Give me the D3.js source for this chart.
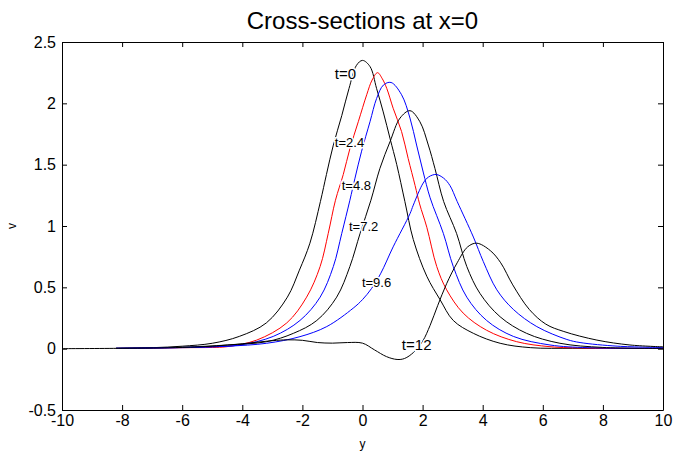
<!DOCTYPE html>
<html>
<head>
<meta charset="utf-8">
<script src="https://cdn.jsdelivr.net/npm/d3@7"></script>
<style>
  body { margin: 0; background: #fff; }
  text { font-family: "Liberation Sans", Arial, sans-serif; }
</style>
</head>
<body>
<div id="chart"></div>
<script>
/**
 * DATA ([y, v] pairs)
 * */
const t0 = [[-8.2,0.003],[-7,0.008],[-6,0.02],[-5,0.044],[-4.1,0.1],[-3.2,0.21],[-2.5,0.42],[-2.1,0.64],[-1.75,0.86],[-1.4,1.2],[-1.2,1.42],[-0.97,1.66],[-0.69,1.9],[-0.45,2.12],[-0.2,2.31],[0,2.35],[0.25,2.3],[0.47,2.12],[0.69,1.93],[0.92,1.71],[1.14,1.5],[1.41,1.2],[1.69,0.89],[2.14,0.59],[2.58,0.4],[3.02,0.23],[3.69,0.125],[4.58,0.044],[5.6,0.008],[7,0.003],[8.5,0.002],[10,0.001]];
const t24 = [[-8.2,0.002],[-7,0.004],[-6,0.008],[-5,0.01],[-4.52,0.016],[-3.52,0.07],[-2.52,0.21],[-1.86,0.42],[-1.41,0.67],[-1.14,0.94],[-0.9,1.21],[-0.64,1.42],[-0.42,1.63],[-0.14,1.85],[0.14,2.07],[0.32,2.19],[0.5,2.25],[0.66,2.2],[0.81,2.12],[1.02,1.96],[1.3,1.77],[1.52,1.55],[1.75,1.33],[1.9,1.18],[2.14,0.99],[2.47,0.67],[2.8,0.48],[3.35,0.29],[4.13,0.15],[5.13,0.057],[6.24,0.016],[7.5,0.005],[10,0.002]];
const t48 = [[-8.2,0.003],[-6,0.008],[-5,0.015],[-4.08,0.03],[-2.97,0.1],[-2.08,0.23],[-1.41,0.42],[-0.97,0.67],[-0.69,0.94],[-0.42,1.21],[-0.25,1.39],[-0.03,1.61],[0.25,1.85],[0.47,2.04],[0.7,2.15],[0.95,2.17],[1.3,2.07],[1.58,1.88],[1.8,1.66],[2.02,1.44],[2.25,1.23],[2.69,0.94],[3.02,0.67],[3.47,0.42],[4.13,0.23],[5.02,0.1],[6.24,0.03],[7.5,0.008],[10,0.003]];
const t72 = [[-8.2,0.003],[-6,0.012],[-4.5,0.03],[-3.19,0.057],[-2.3,0.125],[-1.52,0.23],[-0.86,0.42],[-0.42,0.67],[-0.08,0.94],[0.28,1.21],[0.58,1.47],[0.92,1.69],[1.25,1.88],[1.58,1.94],[1.91,1.85],[2.19,1.66],[2.41,1.47],[2.7,1.2],[3.13,0.94],[3.47,0.67],[3.91,0.45],[4.58,0.26],[5.46,0.125],[6.57,0.044],[8,0.01],[10,0.003]];
const t96 = [[-8.2,0.003],[-6,0.01],[-4.5,0.02],[-3.19,0.044],[-2.08,0.098],[-1.19,0.18],[-0.31,0.33],[0,0.4],[0.3,0.49],[0.6,0.61],[1.02,0.83],[1.58,1.1],[1.69,1.17],[2.02,1.35],[2.2,1.4],[2.45,1.42],[2.7,1.39],[2.91,1.33],[3.15,1.2],[3.69,0.91],[4.02,0.71],[4.47,0.48],[5.02,0.32],[5.8,0.18],[6.8,0.075],[7.24,0.05],[8.5,0.02],[10,0.01]];
const t12 = [[-10,0],[-8,0.003],[-6,0.01],[-5,0.02],[-4,0.04],[-3,0.065],[-2.5,0.072],[-2,0.068],[-1.5,0.05],[-1,0.045],[-0.5,0.05],[0,0.045],[0.4,-0.01],[0.8,-0.065],[1.15,-0.088],[1.4,-0.08],[1.7,-0.03],[2,0.06],[2.25,0.19],[2.5,0.35],[2.8,0.53],[3.15,0.7],[3.5,0.83],[3.8,0.86],[4.25,0.8],[4.6,0.7],[5,0.52],[5.55,0.32],[6.1,0.2],[6.7,0.14],[7.8,0.07],[8.9,0.03],[10,0.015]];

const seriesNames = ["t=0", "t=2.4", "t=4.8", "t=7.2", "t=9.6", "t=12"];
const seriesValues = [t0, t24, t48, t72, t96, t12];
const seriesColors = ["#000", "#f00", "#00f", "#000", "#00f", "#000"];
// where each inline label sits, in data units
const labelAt = [[-0.92, 2.2], [-0.92, 1.64], [-0.69, 1.29], [-0.45, 0.96], [-0.02, 0.5], [1.31, -0.01]];
const labelBig = [true, false, false, false, false, true];

const xTicks = [-10, -8, -6, -4, -2, 0, 2, 4, 6, 8, 10];
const yTicks = [-0.5, 0, 0.5, 1, 1.5, 2, 2.5];

/**
 * CONSTANTS
 * */
const width = 674,
  height = 454,
  margin = { top: 42, bottom: 44, left: 62, right: 11 };

const svg = d3.select("#chart")
  .append("svg")
  .attr("width", width)
  .attr("height", height);

const x = d3.scaleLinear().domain([-10, 10]).range([margin.left, width - margin.right]);
const y = d3.scaleLinear().domain([-0.5, 2.5]).range([height - margin.bottom, margin.top]);

const fmt = d => String(d);

// + AXES (matlab style box, ticks inward)
svg.append("g")
  .attr("transform", `translate(0,${height - margin.bottom})`)
  .call(d3.axisBottom(x).tickValues(xTicks).tickFormat(fmt).tickSizeInner(-5).tickSizeOuter(0).tickPadding(5));
svg.append("g")
  .attr("transform", `translate(0,${margin.top})`)
  .call(d3.axisTop(x).tickValues(xTicks).tickFormat("").tickSizeInner(-5).tickSizeOuter(0));
svg.append("g")
  .attr("transform", `translate(${margin.left},0)`)
  .call(d3.axisLeft(y).tickValues(yTicks).tickFormat(fmt).tickSizeInner(-5).tickSizeOuter(0).tickPadding(6));
svg.append("g")
  .attr("transform", `translate(${width - margin.right},0)`)
  .call(d3.axisRight(y).tickValues(yTicks).tickFormat("").tickSizeInner(-5).tickSizeOuter(0));

svg.selectAll(".tick text")
  .style("font-size", "16px")
  .attr("fill", "#000");
svg.selectAll(".domain, .tick line").attr("stroke", "#000");

// + LINES
const line = d3.line()
  .x(d => x(d[0]))
  .y(d => y(d[1]))
  .curve(d3.curveCatmullRom.alpha(0.5));

svg.selectAll(".curve")
  .data(seriesValues)
  .join("path")
  .attr("class", "curve")
  .attr("fill", "none")
  .attr("stroke", (d, i) => seriesColors[i])
  .attr("stroke-width", 1)
  .attr("d", line);

// + INLINE LABELS
svg.selectAll(".lab")
  .data(seriesNames)
  .join("text")
  .attr("class", "lab")
  .attr("x", (d, i) => x(labelAt[i][0]))
  .attr("y", (d, i) => y(labelAt[i][1]))
  .style("font-size", (d, i) => labelBig[i] ? "15px" : "13px")
  .attr("fill", "#000")
  .attr("stroke", "#fff")
  .attr("stroke-width", 3)
  .attr("paint-order", "stroke")
  .text(d => d);

// + TITLES
svg.append("text")
  .attr("x", (margin.left + width - margin.right) / 2)
  .attr("y", 29)
  .attr("text-anchor", "middle")
  .style("font-size", "24px")
  .text("Cross-sections at x=0");

svg.append("text")
  .attr("x", (margin.left + width - margin.right) / 2)
  .attr("y", 448)
  .attr("text-anchor", "middle")
  .style("font-size", "12px")
  .text("y");

svg.append("text")
  .attr("transform", `translate(16,${(margin.top + height - margin.bottom) / 2}) rotate(-90)`)
  .attr("text-anchor", "middle")
  .style("font-size", "12px")
  .text("v");
</script>
</body>
</html>
